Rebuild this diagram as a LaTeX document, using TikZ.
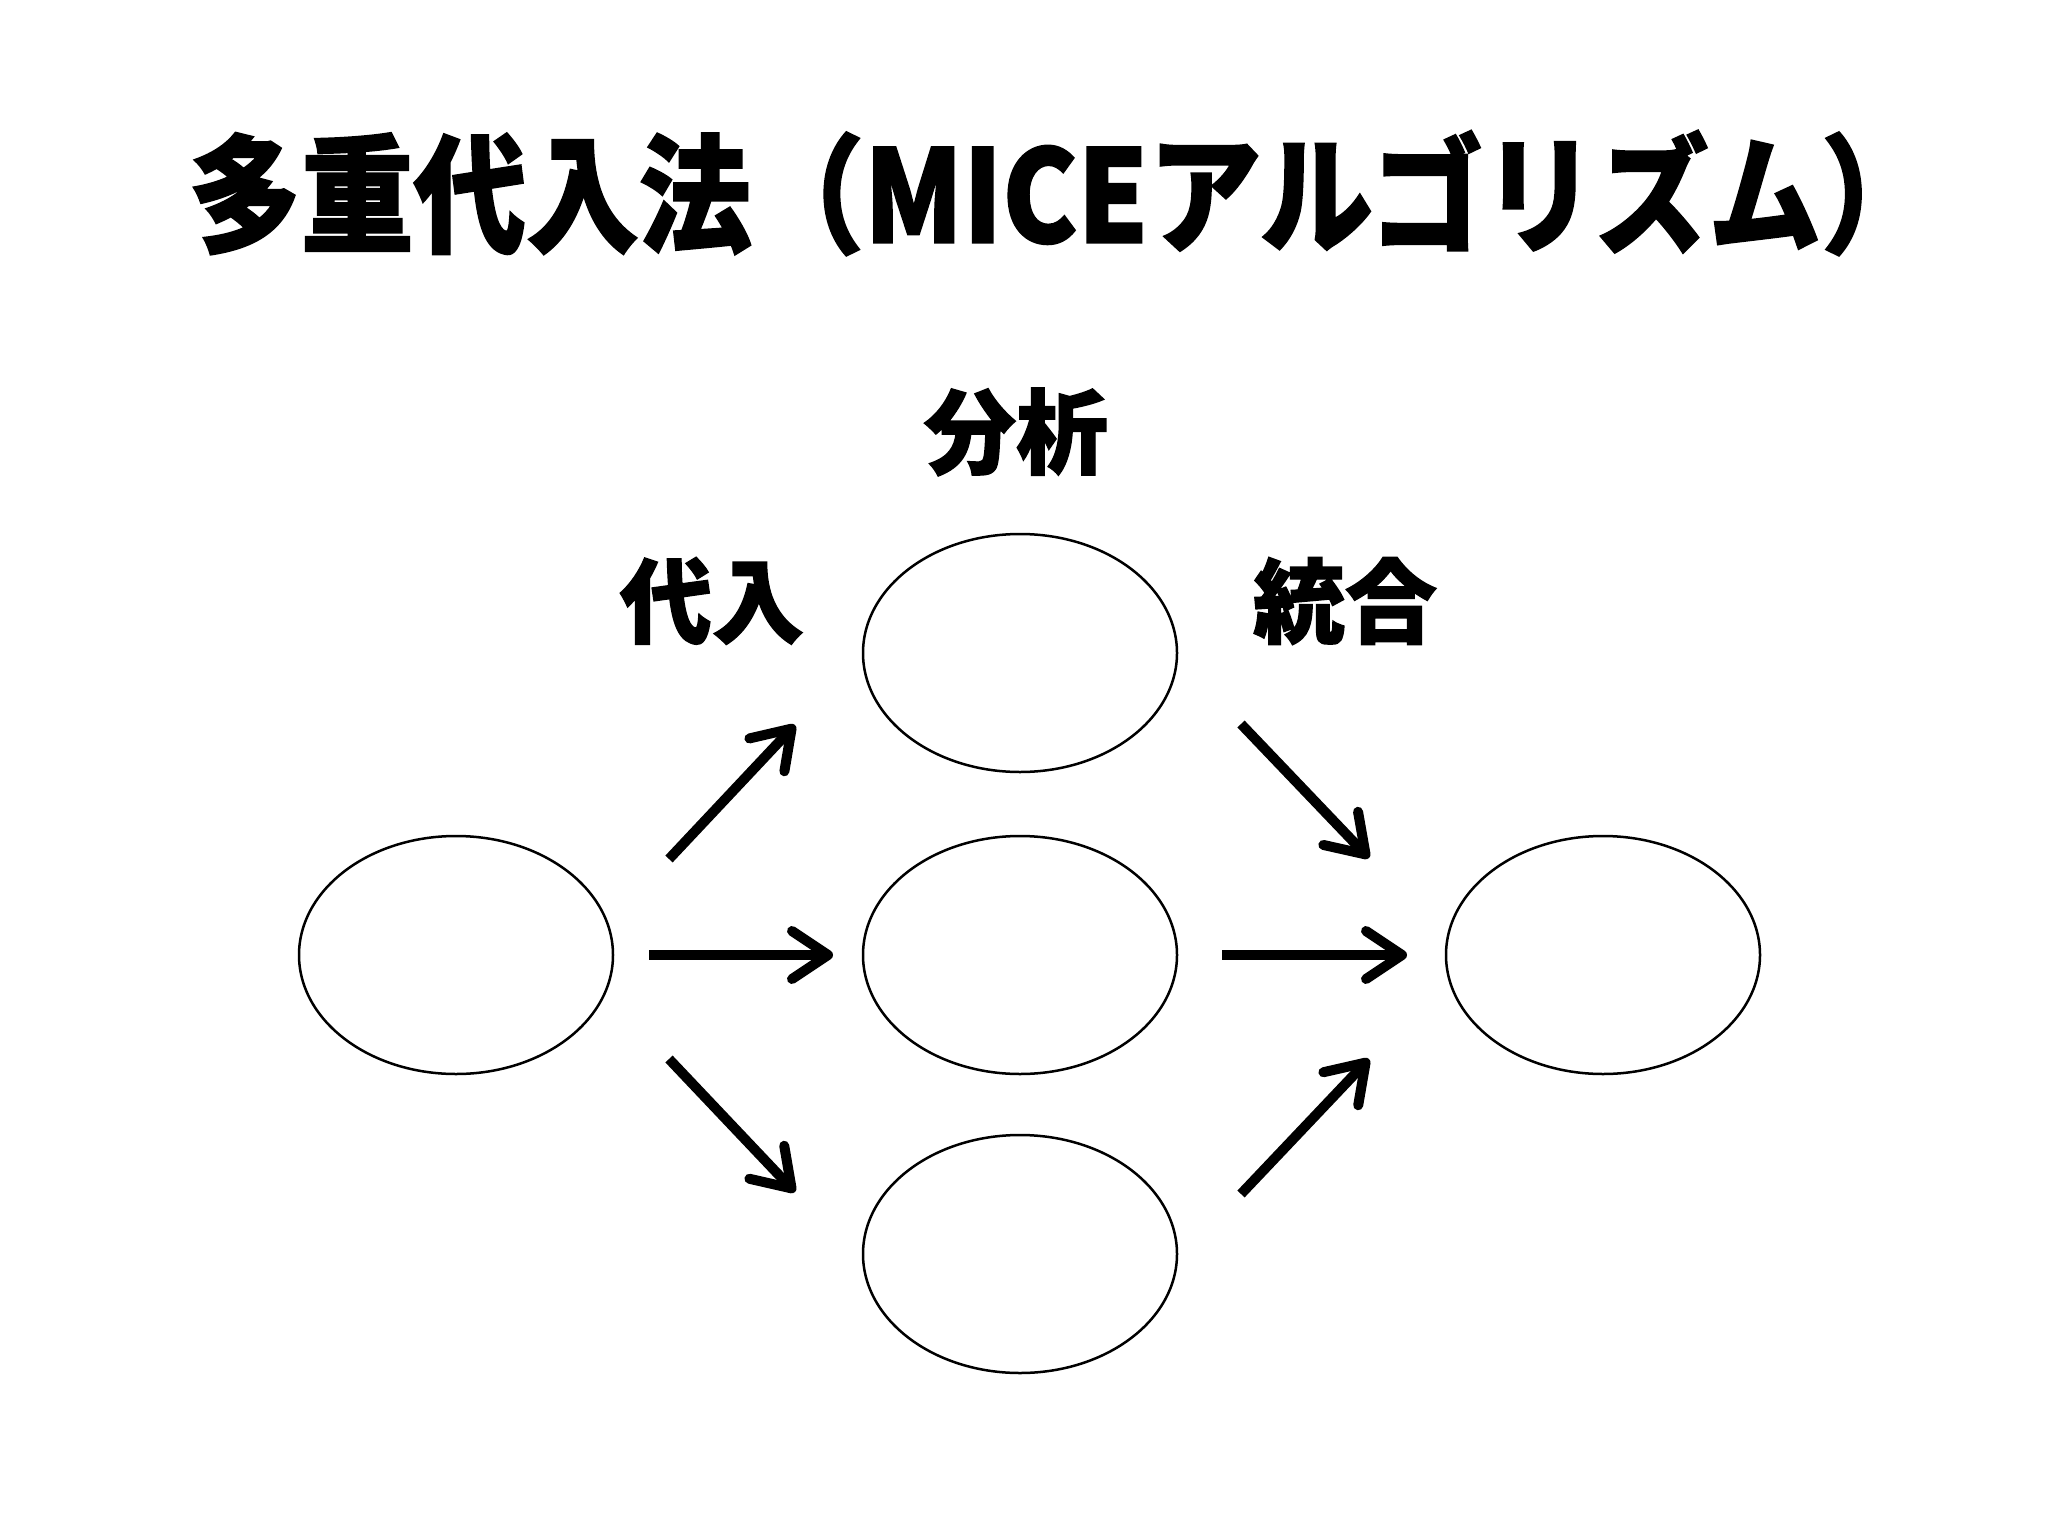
\documentclass[tikz,border=0pt]{standalone}
\usepackage{fontspec}
\newfontfamily\jp{Noto Sans CJK JP}[BoldFeatures={FakeBold=1.5}]
\usetikzlibrary{shapes.geometric,arrows.meta}
\tikzset{
  blob/.style={draw=black, line width=2.5pt, ellipse, minimum width=314pt, minimum height=238pt, inner sep=0pt},
  flow/.style={line width=10pt, -{Straight Barb[length=36pt,width=48pt,round]}},
  lbl/.style={font=\jp\bfseries\fontsize{92}{92}\selectfont, inner sep=0pt},
}
\begin{document}
\begin{tikzpicture}[x=1pt,y=-1pt]
\useasboundingbox (0,0) rectangle (2048,1536);
\fill[white] (0,0) rectangle (2048,1536);
\node[inner sep=0pt, xscale=0.88, font=\jp\bfseries\fontsize{128}{128}\selectfont] (title) at (1061,193) {多重代入法（MICEアルゴリズム）};
\node[blob] (src) at (456,955) {};
\node[blob] (m1) at (1020,653) {};
\node[blob] (m2) at (1020,955) {};
\node[blob] (m3) at (1020,1254) {};
\node[blob] (res) at (1603,955) {};
\node[lbl] (lana) at (1016,432) {分析};
\node[lbl] (limp) at (712,601) {代入};
\node[lbl] (lpool) at (1345,601) {統合};
\coordinate (a1s) at (669,859); \coordinate (a1e) at (795,725);
\coordinate (a2s) at (649,955); \coordinate (a2e) at (833,955);
\coordinate (a3s) at (669,1059); \coordinate (a3e) at (795,1192);
\coordinate (b1s) at (1241,724); \coordinate (b1e) at (1369,858);
\coordinate (b2s) at (1222,955); \coordinate (b2e) at (1407,955);
\coordinate (b3s) at (1241,1194); \coordinate (b3e) at (1369,1059);
\draw[flow] (a1s) -- (a1e);
\draw[flow] (a2s) -- (a2e);
\draw[flow] (a3s) -- (a3e);
\draw[flow] (b1s) -- (b1e);
\draw[flow] (b2s) -- (b2e);
\draw[flow] (b3s) -- (b3e);
\end{tikzpicture}
\end{document}
